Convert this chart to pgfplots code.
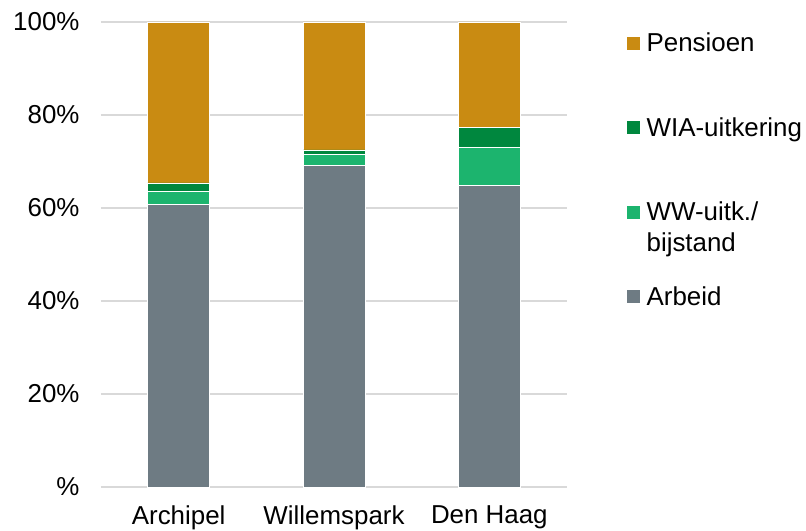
\documentclass[border=0pt]{standalone}
\usepackage{fontspec}
\setmainfont{Liberation Sans}
\usepackage{pgfplots}
\pgfplotsset{compat=1.18}
\definecolor{cPen}{RGB}{201,139,18}
\definecolor{cWIA}{RGB}{0,135,62}
\definecolor{cWW}{RGB}{28,180,110}
\definecolor{cArb}{RGB}{110,123,131}
\definecolor{cGrid}{RGB}{217,217,217}
\begin{document}
\begin{tikzpicture}
\useasboundingbox (-101bp,-44bp) rectangle (705bp,487bp);
\begin{axis}[
 at={(0,0)}, anchor=south west,
 scale only axis, width=466bp, height=465bp,
 ybar stacked, bar width=62bp,
 xmin=-0.5, xmax=2.5, ymin=0, ymax=100,
 xtick={0,1,2}, xticklabels={Archipel,Willemspark,Den Haag},
 ytick={0,20,40,60,80,100}, yticklabels={\%,20\%,40\%,60\%,80\%,100\%},
 axis x line*=bottom, axis y line*=left,
 x axis line style={draw=cGrid, line width=1.3bp, -},
 y axis line style={draw=none},
 major tick style={draw=none},
 ymajorgrids, grid style={draw=cGrid, line width=1.3bp},
 tick label style={font=\fontsize{26}{31}\selectfont},
 xticklabel style={yshift=-15bp},
 yticklabel style={xshift=-18bp},
 legend style={at={(1.1266,0.9774)}, anchor=north west, draw=none, fill=none,
   inner sep=0pt, outer sep=0pt, row sep=60bp, column sep=6bp,
   font=\fontsize{26}{31}\selectfont,
   nodes={inner sep=0pt, outer sep=0pt, text height=19bp, text depth=5.5bp, anchor=base west},
   cells={anchor=base west}},
 reverse legend,
 legend image code/.code={\fill[#1] (0bp,1.5bp) rectangle (14bp,15.5bp);},
]
\addplot[fill=cArb, draw=white, line width=0.6bp] coordinates {(0,60.8) (1,69.2) (2,64.9)};
\addlegendentry{Arbeid}
\addplot[fill=cWW, draw=white, line width=0.6bp] coordinates {(0,2.7) (1,2.4) (2,8.2)};
\addlegendentry{\vtop{\hbox{WW-uitk./}\hbox{bijstand}}}
\addplot[fill=cWIA, draw=white, line width=0.6bp] coordinates {(0,1.9) (1,0.9) (2,4.3)};
\addlegendentry{WIA-uitkering}
\addplot[fill=cPen, draw=white, line width=0.6bp] coordinates {(0,34.6) (1,27.5) (2,22.6)};
\addlegendentry{Pensioen}
\end{axis}
\end{tikzpicture}
\end{document}
